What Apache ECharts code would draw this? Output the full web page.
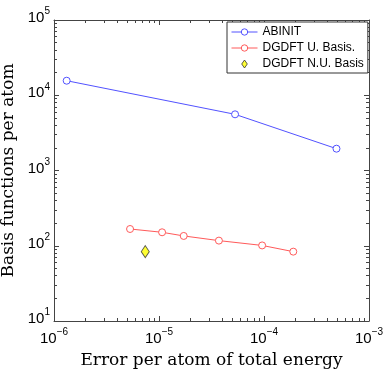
<!DOCTYPE html>
<html>
<head>
<meta charset="utf-8">
<script src="https://cdn.jsdelivr.net/npm/echarts@6/dist/echarts.min.js"></script>
<style>
  html, body { margin: 0; padding: 0; background: #fff; }
  #main { width: 390px; height: 370px; }
</style>
</head>
<body>
<div id="main"></div>
<script>
// values (log-log)
var abinitErr = [1.32e-6, 5.3e-5, 4.9e-4];
var abinitBasis = [15600, 5580, 1950];
var uniformErr = [5.3e-6, 1.07e-5, 1.72e-5, 3.72e-5, 9.6e-5, 1.9e-4];
var uniformBasis = [167, 151, 135, 117, 101, 83.5];
var nonUniformErr = [7.4e-6];
var nonUniformBasis = [83.5];
var seriesNames = ['ABINIT', 'DGDFT U. Basis.', 'DGDFT N.U. Basis'];

function pairs(xs, ys) {
    var out = [];
    for (var i = 0; i < xs.length; i++) out.push([xs[i], ys[i]]);
    return out;
}

function powLabel(v) {
    var e = Math.round(Math.log10(v));
    return '{b|10}{sup|' + String(e).replace('-', '\u2212') + '}';
}

var tickRich = {
    b: { fontSize: 15, fontFamily: 'Liberation Sans', color: '#000', padding: [4, 0, 0, 0], verticalAlign: 'bottom' },
    sup: { fontSize: 10, fontFamily: 'Liberation Sans', color: '#000', verticalAlign: 'top' }
};

var chart = echarts.init(document.getElementById('main'));

var baseAxis = {
    type: 'log',
    logBase: 10,
    axisLine: { show: true, lineStyle: { color: '#444', width: 1 } },
    axisTick: { show: true, inside: true, length: 5, lineStyle: { color: '#444' } },
    minorTick: { show: true, splitNumber: 9, length: 3, lineStyle: { color: '#444' } },
    splitLine: { show: false }
};

function marker(color) {
    return { color: '#fff', borderColor: color, borderWidth: 1 };
}

var option = {
    animation: false,
    backgroundColor: '#fff',
    grid: { left: 54, right: 21, top: 20, bottom: 49, outerBoundsMode: 'none' },
    legend: {
        orient: 'vertical',
        left: 227,
        top: 22,
        width: 141,
        padding: [4, 4, 3, 4],
        itemGap: 4,
        itemWidth: 26,
        itemHeight: 8,
        borderColor: '#333',
        borderWidth: 1,
        borderRadius: 0,
        backgroundColor: '#fff',
        lineStyle: { width: 1 },
        itemStyle: { borderWidth: 1 },
        textStyle: { fontFamily: 'Liberation Sans', fontSize: 12, color: '#000' },
        data: [
            { name: seriesNames[0] },
            { name: seriesNames[1] },
            { name: seriesNames[2], icon: 'path://M0,-10L7,0L0,10L-7,0Z' }
        ]
    },
    xAxis: [
        Object.assign({}, baseAxis, {
            min: 1e-6, max: 1e-3,
            name: 'Error per atom of total energy',
            nameLocation: 'middle',
            nameGap: 31,
            nameTextStyle: { fontFamily: 'DejaVu Serif', fontSize: 17, color: '#000' },
            axisLabel: { formatter: powLabel, rich: tickRich, margin: 6 }
        }),
        Object.assign({}, baseAxis, {
            min: 1e-6, max: 1e-3, position: 'top',
            axisLabel: { show: false }
        })
    ],
    yAxis: [
        Object.assign({}, baseAxis, {
            min: 10, max: 1e5,
            name: 'Basis functions per atom',
            nameLocation: 'middle',
            nameGap: 36,
            nameTextStyle: { fontFamily: 'DejaVu Serif', fontSize: 17, color: '#000' },
            axisLabel: { formatter: powLabel, rich: tickRich, margin: 4, padding: [0, 0, 8, 0] }
        }),
        Object.assign({}, baseAxis, {
            min: 10, max: 1e5, position: 'right',
            axisLabel: { show: false }
        })
    ],
    series: [
        {
            name: seriesNames[0],
            type: 'line',
            data: pairs(abinitErr, abinitBasis),
            symbol: 'circle',
            symbolSize: 7,
            lineStyle: { color: '#5252ff', width: 1 },
            itemStyle: marker('#5252ff')
        },
        {
            name: seriesNames[1],
            type: 'line',
            data: pairs(uniformErr, uniformBasis),
            symbol: 'circle',
            symbolSize: 7,
            lineStyle: { color: '#ff5a5a', width: 1 },
            itemStyle: marker('#ff5a5a')
        },
        {
            name: seriesNames[2],
            type: 'scatter',
            data: pairs(nonUniformErr, nonUniformBasis),
            symbol: 'diamond',
            symbolSize: [8, 12],
            itemStyle: { color: '#ffff00', borderColor: '#333', borderWidth: 1 }
        }
    ]
};

chart.setOption(option);
</script>
</body>
</html>
